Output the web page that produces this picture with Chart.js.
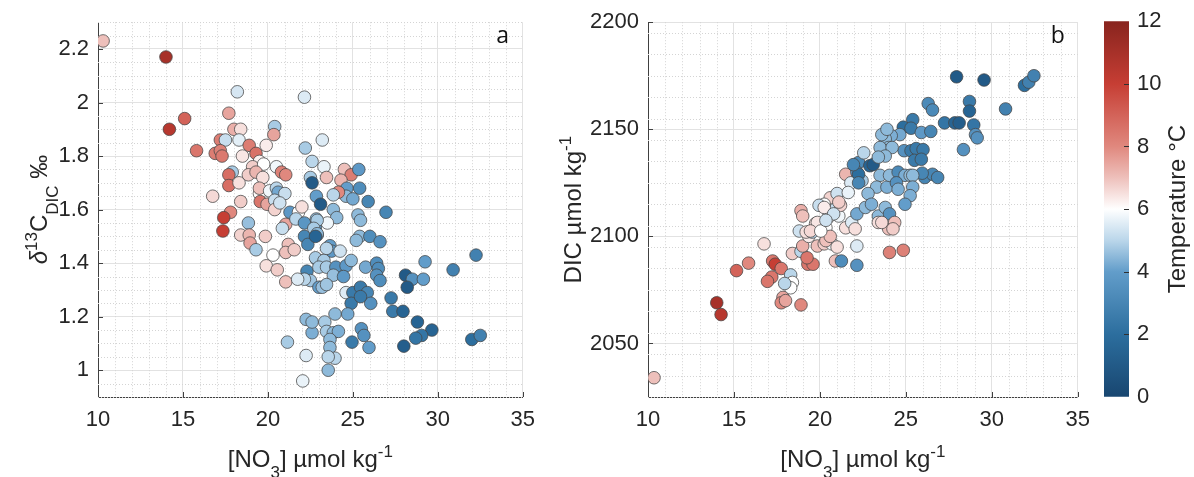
<!DOCTYPE html>
<html>
<head>
<meta charset="utf-8">
<script src="https://cdn.jsdelivr.net/npm/chart.js@4.4.1/dist/chart.umd.min.js"></script>
<style>
  body { margin: 0; background: #fff; }
  #wrap { position: relative; width: 1194px; height: 477px; }
  canvas { position: absolute; top: 0; }
</style>
</head>
<body>
<div id="wrap">
  <canvas id="chart-a" width="545" height="477" style="left:0"></canvas>
  <canvas id="chart-b" width="555" height="477" style="left:545px"></canvas>
  <canvas id="chart-cb" width="94" height="477" style="left:1100px"></canvas>
</div>
<script>
// ---- data ----
// panel a: nitrate (umol/kg), d13C-DIC (permil), temperature (degC)
const nitrateA = [10.3, 14.0, 15.1, 14.2, 15.8, 18.2, 17.7, 18.0, 18.4, 17.2, 17.5, 18.3, 16.9, 17.2, 17.3, 18.9, 19.3, 19.9, 20.4, 20.35,
  18.5, 19.5, 19.1, 19.75, 20.5, 20.8, 21.05, 17.9, 17.7, 17.7, 18.3, 18.85, 19.3, 19.7, 16.75, 18.4, 19.5, 19.5, 19.55, 19.95,
  20.1, 20.5, 20.6, 21.0, 20.4, 20.4, 20.7, 21.3, 17.8, 17.4, 17.35, 18.85, 21.05, 20.85, 18.4, 18.9, 18.95, 19.3, 19.85, 20.3,
  19.9, 20.55, 21.05, 21.15, 21.2, 21.05, 21.55, 22.15, 22.2, 22.6, 23.2, 22.5, 22.6, 22.85, 23.1, 21.8, 22.0, 21.65, 22.15, 22.85,
  22.15, 22.35, 22.8, 22.9, 22.85, 22.3, 22.5, 22.15, 21.75, 23.0, 23.0, 22.25, 22.6, 22.25, 22.05, 23.3, 23.45, 24.5, 24.9, 24.3,
  25.35, 25.4, 24.65, 24.6, 25.0, 24.15, 23.85, 25.9, 26.95, 23.85, 24.05, 23.5, 22.9, 22.7, 22.9, 22.8, 25.3, 25.45, 25.4, 25.2,
  26.0, 26.6, 23.65, 23.75, 24.25, 23.45, 22.8, 23.3, 23.0, 23.45, 24.0, 24.6, 24.9, 23.85, 24.45, 23.2, 23.45, 25.75, 26.4, 26.5,
  26.4, 26.6, 28.1, 28.5, 28.2, 29.15, 29.25, 30.9, 32.25, 24.6, 25.0, 25.45, 25.85, 24.9, 24.7, 26.05, 25.45, 27.25, 27.35, 27.95,
  28.8, 29.65, 29.05, 28.7, 28.0, 32.0, 32.5, 24.95, 25.95, 25.5, 25.65, 23.95, 23.35, 23.45, 23.85, 24.15, 23.65, 23.65, 23.95, 23.55,
  23.55, 22.6];
const d13cA = [2.23, 2.17, 1.94, 1.90, 1.82, 2.04, 1.96, 1.90, 1.90, 1.86, 1.86, 1.86, 1.81, 1.82, 1.80, 1.84, 1.81, 1.84, 1.91, 1.88,
  1.80, 1.78, 1.76, 1.77, 1.76, 1.74, 1.73, 1.74, 1.73, 1.69, 1.70, 1.73, 1.74, 1.72, 1.65, 1.63, 1.66, 1.68, 1.63, 1.62,
  1.67, 1.68, 1.665, 1.66, 1.635, 1.60, 1.625, 1.59, 1.59, 1.57, 1.52, 1.55, 1.545, 1.53, 1.505, 1.505, 1.475, 1.45, 1.50, 1.43,
  1.39, 1.375, 1.33, 1.105, 1.47, 1.44, 1.45, 2.02, 1.83, 1.78, 1.86, 1.72, 1.70, 1.65, 1.62, 1.59, 1.61, 1.565, 1.55, 1.565,
  1.50, 1.47, 1.535, 1.505, 1.415, 1.37, 1.335, 1.34, 1.34, 1.31, 1.41, 1.19, 1.14, 1.055, 0.96, 1.76, 1.72, 1.75, 1.73, 1.71,
  1.75, 1.68, 1.68, 1.65, 1.64, 1.665, 1.655, 1.63, 1.59, 1.60, 1.57, 1.55, 1.56, 1.53, 1.51, 1.50, 1.58, 1.56, 1.50, 1.485,
  1.50, 1.48, 1.465, 1.445, 1.445, 1.455, 1.42, 1.41, 1.385, 1.385, 1.385, 1.39, 1.41, 1.355, 1.35, 1.31, 1.32, 1.385, 1.40, 1.38,
  1.355, 1.335, 1.355, 1.34, 1.31, 1.34, 1.405, 1.375, 1.43, 1.29, 1.29, 1.31, 1.29, 1.25, 1.21, 1.25, 1.275, 1.27, 1.22, 1.22,
  1.18, 1.15, 1.13, 1.12, 1.09, 1.115, 1.13, 1.105, 1.085, 1.155, 1.13, 1.21, 1.18, 1.145, 1.14, 1.145, 1.115, 1.085, 1.045, 1.05,
  1.00, 1.18];
const tempA = [7.0, 11.0, 9.0, 10.5, 8.5, 5.4, 7.5, 7.3, 6.5, 8.3, 5.2, 5.6, 8.3, 8.2, 8.4, 8.3, 8.6, 6.3, 4.8, 7.5,
  6.4, 6.2, 6.8, 6.0, 5.8, 8.2, 8.0, 4.8, 8.7, 8.7, 6.5, 6.8, 7.2, 6.5, 6.6, 6.8, 6.1, 7.0, 8.5, 7.5,
  5.8, 5.0, 4.2, 5.2, 5.2, 6.7, 5.3, 3.8, 8.0, 10.0, 10.0, 4.6, 7.5, 5.2, 6.7, 7.2, 7.5, 4.8, 6.8, 6.0,
  6.5, 6.8, 7.0, 4.8, 7.0, 7.0, 6.8, 5.5, 4.8, 5.0, 5.5, 4.8, 1.0, 4.0, 1.0, 6.0, 6.5, 5.0, 3.7, 4.5,
  3.0, 3.0, 4.0, 4.0, 4.0, 3.0, 4.7, 5.0, 5.5, 4.0, 3.8, 4.5, 4.3, 5.5, 5.7, 5.7, 7.0, 7.0, 8.3, 7.2,
  3.8, 3.3, 4.0, 4.5, 4.2, 8.0, 5.0, 3.0, 3.0, 4.5, 4.5, 5.8, 4.8, 4.8, 4.5, 1.5, 4.5, 4.5, 4.5, 4.5,
  3.3, 3.5, 4.0, 3.8, 5.3, 5.0, 4.8, 4.8, 4.8, 4.8, 3.5, 3.8, 4.5, 4.6, 3.8, 4.6, 4.7, 4.2, 3.3, 3.3,
  3.5, 3.3, 1.0, 3.5, 1.0, 4.0, 4.0, 2.8, 2.8, 5.5, 2.5, 2.5, 3.0, 2.5, 4.2, 3.5, 2.5, 2.5, 2.5, 1.5,
  1.5, 1.5, 2.3, 2.3, 1.2, 2.0, 2.8, 2.5, 4.0, 3.5, 3.5, 4.5, 4.8, 4.8, 4.5, 4.3, 4.5, 4.5, 5.0, 5.0,
  4.5, 4.5];

// panel b: nitrate (umol/kg), DIC (umol/kg), temperature (degC)
const nitrateB = [10.35, 14.0, 14.25, 15.15, 15.85, 16.75, 17.25, 17.4, 17.75, 17.2, 16.95, 17.85, 17.75, 18.0, 18.9, 18.3, 18.4, 18.3, 17.95, 18.4,
  18.9, 19.3, 19.6, 19.25, 19.0, 19.35, 19.85, 20.25, 20.7, 21.0, 20.9, 21.25, 22.15, 22.15, 18.9, 19.0, 18.8, 19.2, 19.55, 19.75,
  20.05, 20.35, 20.35, 20.6, 20.5, 20.9, 21.1, 21.2, 20.6, 21.0, 20.25, 19.95, 21.5, 21.85, 22.15, 22.05, 21.5, 21.8, 21.65, 22.25,
  22.15, 22.45, 22.9, 23.1, 23.5, 23.3, 22.8, 22.65, 23.0, 23.4, 23.8, 23.9, 24.05, 24.05, 23.4, 24.0, 24.05, 24.85, 27.95, 29.55,
  31.9, 32.15, 32.45, 30.8, 28.7, 28.7, 26.3, 26.55, 27.25, 27.85, 28.1, 28.95, 29.05, 29.15, 28.35, 25.4, 24.85, 25.3, 25.9, 26.45,
  24.9, 25.3, 25.6, 26.0, 25.5, 25.9, 26.1, 26.55, 26.85, 25.95, 24.65, 24.15, 23.8, 24.0, 23.8, 23.5, 24.55, 24.95, 25.25, 25.4,
  24.45, 24.55, 25.4, 25.25, 24.95, 23.6, 24.35, 24.25, 23.6, 23.9, 24.2, 23.8, 23.4, 22.25, 22.25, 21.1, 20.25, 20.8, 19.85, 19.45,
  20.05, 20.35, 22.55, 21.95];
const dicB = [2034, 2069, 2063.5, 2084, 2087.5, 2096.5, 2088.5, 2087, 2085, 2081, 2079, 2071.5, 2069, 2070, 2068, 2082, 2078.5, 2076, 2078, 2092,
  2093, 2087, 2087, 2090, 2095.5, 2100, 2095.5, 2096.5, 2096.5, 2095, 2088.5, 2088.5, 2095.5, 2086.5, 2112, 2109.5, 2102.5, 2102, 2102, 2106,
  2105, 2104, 2098, 2100, 2109, 2113, 2109.5, 2114.5, 2118, 2120, 2115, 2114.5, 2104, 2106.5, 2110.5, 2103.5, 2129, 2125, 2120.5, 2134.5,
  2130, 2126, 2133, 2133.5, 2128.5, 2123, 2120, 2113.5, 2115, 2109.5, 2113.5, 2123, 2128.5, 2110.5, 2106.5, 2103.5, 2092.5, 2093.5, 2174.5, 2173,
  2170.5, 2172, 2175, 2159.5, 2163, 2158.5, 2162, 2159, 2153, 2153, 2153, 2152, 2147.5, 2146, 2140.5, 2154.5, 2151, 2150.5, 2148.5, 2149,
  2140, 2140, 2141, 2140.5, 2135.5, 2136, 2127.5, 2129, 2127.5, 2129.5, 2147.5, 2147, 2145.5, 2141.5, 2140, 2141.5, 2130, 2128.5, 2128.5, 2128.5,
  2125, 2122, 2123, 2119, 2115, 2106.5, 2106.5, 2103.5, 2147.5, 2150, 2141.5, 2137.5, 2137, 2129, 2125, 2116, 2113.5, 2110.5, 2106.5, 2102.5,
  2102.5, 2107.5, 2139, 2133.5];
const tempB = [7.0, 11.0, 10.5, 9.0, 8.0, 6.5, 8.5, 10.0, 8.5, 8.5, 8.5, 7.5, 8.0, 7.5, 8.0, 5.0, 6.0, 6.0, 5.0, 6.8,
  5.0, 8.5, 8.5, 8.5, 7.3, 6.3, 7.0, 6.8, 5.8, 6.5, 7.0, 3.3, 5.5, 3.5, 7.3, 7.0, 5.3, 6.5, 5.0, 6.5,
  6.0, 6.0, 7.0, 7.0, 6.0, 5.2, 5.8, 6.7, 6.7, 5.3, 6.0, 5.2, 6.5, 5.5, 4.2, 6.5, 7.2, 5.5, 5.7, 3.2,
  3.5, 4.8, 1.5, 1.0, 4.5, 4.5, 4.5, 4.5, 4.3, 4.5, 4.5, 4.3, 4.5, 3.5, 6.5, 7.0, 8.2, 8.2, 1.0, 1.0,
  2.0, 2.8, 2.8, 2.8, 2.5, 1.5, 3.2, 3.2, 2.3, 1.5, 1.2, 2.3, 3.5, 3.5, 3.5, 2.5, 2.0, 2.5, 3.8, 3.0,
  3.5, 2.5, 2.5, 2.5, 2.5, 2.5, 3.0, 3.0, 3.0, 3.0, 4.2, 4.3, 4.5, 4.5, 4.5, 4.5, 3.2, 4.3, 4.5, 4.5,
  3.5, 4.3, 4.3, 4.3, 4.0, 6.6, 7.0, 6.8, 4.5, 4.5, 4.5, 4.5, 4.5, 2.0, 3.0, 6.8, 6.3, 5.3, 6.4, 6.6,
  6.0, 5.3, 5.0, 3.0];

// ticks
const xTicks = [10, 15, 20, 25, 30, 35];
const yTicksA = [1, 1.2, 1.4, 1.6, 1.8, 2, 2.2];
const yTicksB = [2050, 2100, 2150, 2200];
const tempTicks = [0, 2, 4, 6, 8, 10, 12];

// diverging blue-white-red map used for temperature
const CMAP = [
  [0, [24, 70, 112]], [2, [44, 110, 158]], [4, [98, 157, 202]], [5, [186, 214, 234]],
  [6, [255, 255, 255]], [7, [238, 192, 187]], [8, [224, 136, 126]], [10, [198, 62, 52]], [12, [136, 36, 30]]
];

function tempColor(t) {
  for (let i = 1; i < CMAP.length; i++) {
    if (t <= CMAP[i][0]) {
      const [t0, c0] = CMAP[i - 1];
      const [t1, c1] = CMAP[i];
      const f = (t - t0) / (t1 - t0);
      const c = c0.map((v, k) => Math.round(v + (c1[k] - v) * f));
      return 'rgb(' + c.join(',') + ')';
    }
  }
  return 'rgb(' + CMAP[CMAP.length - 1][1].join(',') + ')';
}

const TEXT = '#262626';
const FONT = '"Liberation Sans", Arial, sans-serif';

// draws text made of normal / superscript (1) / subscript (-1) pieces
function drawRich(ctx, parts, x, y, size, rotate) {
  const small = Math.round(size * 0.7);
  const fontOf = p => (p[2] || '') + ' ' + (p[1] ? small : size) + 'px ' + FONT;
  ctx.save();
  ctx.translate(x, y);
  if (rotate) ctx.rotate(-Math.PI / 2);
  let total = 0;
  parts.forEach(p => { ctx.font = fontOf(p); total += ctx.measureText(p[0]).width; });
  let cx = -total / 2;
  ctx.fillStyle = TEXT;
  ctx.textBaseline = 'alphabetic';
  ctx.textAlign = 'left';
  parts.forEach(p => {
    ctx.font = fontOf(p);
    const dy = p[1] === 1 ? -size * 0.42 : p[1] === -1 ? size * 0.45 : 0;
    ctx.fillText(p[0], cx, dy);
    cx += ctx.measureText(p[0]).width;
  });
  ctx.restore();
}

// minor dotted grid, inward ticks, rich axis titles, panel letter
const decorPlugin = {
  id: 'decor',
  beforeDatasetsDraw(chart, args, opts) {
    const { ctx, chartArea: a, scales: { x, y } } = chart;
    ctx.save();
    ctx.strokeStyle = '#d4d4d4';
    ctx.lineWidth = 1;
    ctx.setLineDash([1, 2]);
    ctx.beginPath();
    for (let v = x.min; v <= x.max + 1e-9; v += opts.minorX) {
      if (xTicks.some(t => Math.abs(t - v) < 1e-6)) continue;
      const px = Math.round(x.getPixelForValue(v)) + 0.5;
      ctx.moveTo(px, a.top); ctx.lineTo(px, a.bottom);
    }
    for (let v = y.min; v <= y.max + 1e-9; v += opts.minorY) {
      if (opts.yTicks.some(t => Math.abs(t - v) < 1e-6)) continue;
      const py = Math.round(y.getPixelForValue(v)) + 0.5;
      ctx.moveTo(a.left, py); ctx.lineTo(a.right, py);
    }
    ctx.stroke();
    ctx.restore();
  },
  afterDraw(chart, args, opts) {
    const { ctx, chartArea: a, scales: { x, y } } = chart;
    ctx.save();
    ctx.strokeStyle = '#404040';
    ctx.lineWidth = 1;
    ctx.beginPath();
    xTicks.forEach(v => {
      const px = Math.round(x.getPixelForValue(v)) + 0.5;
      ctx.moveTo(px, a.bottom); ctx.lineTo(px, a.bottom - 5);
    });
    opts.yTicks.forEach(v => {
      const py = Math.round(y.getPixelForValue(v)) + 0.5;
      ctx.moveTo(a.left, py); ctx.lineTo(a.left + 5, py);
    });
    ctx.stroke();
    ctx.restore();

    const cx = (a.left + a.right) / 2;
    const cy = (a.top + a.bottom) / 2;
    drawRich(ctx, opts.xTitle, cx, 467, 24, false);
    drawRich(ctx, opts.yTitle, opts.yTitleX, cy, 24, true);

    ctx.save();
    ctx.fillStyle = '#111';
    ctx.font = '23px "Open Sans", sans-serif';
    ctx.textAlign = 'center';
    ctx.fillText(opts.letter, a.right - 20, 43);
    ctx.restore();
  }
};

function scatterChart(canvas, xs, ys, temps, yMin, yMax, yTicks, yWidth, padRight, extra) {
  const points = xs.map((v, i) => ({ x: v, y: ys[i] }));
  return new Chart(canvas, {
    type: 'scatter',
    data: {
      datasets: [{
        data: points,
        backgroundColor: temps.map(tempColor),
        borderColor: 'rgba(70,70,70,0.85)',
        borderWidth: 0.9,
        pointRadius: 6.3,
        pointHoverRadius: 6.3
      }]
    },
    options: {
      responsive: false,
      animation: false,
      events: [],
      layout: { padding: { top: 20, right: padRight, left: 0, bottom: 0 } },
      scales: {
        x: {
          type: 'linear',
          min: 10,
          max: 35,
          afterBuildTicks: s => { s.ticks = xTicks.map(v => ({ value: v })); },
          afterFit: s => { s.height = 80; },
          grid: { color: '#e2e2e2', drawTicks: false },
          border: { color: '#404040', width: 1 },
          ticks: { color: TEXT, padding: 10, font: { size: 22, family: FONT }, callback: v => String(v) }
        },
        y: {
          type: 'linear',
          min: yMin,
          max: yMax,
          afterBuildTicks: s => { s.ticks = yTicks.map(v => ({ value: v })); },
          afterFit: s => { s.width = yWidth; },
          grid: { color: '#e2e2e2', drawTicks: false },
          border: { color: '#404040', width: 1 },
          ticks: { color: TEXT, padding: 9, font: { size: 22, family: FONT }, callback: v => String(+v.toFixed(2)) }
        }
      },
      plugins: {
        legend: { display: false },
        tooltip: { enabled: false },
        decor: Object.assign({ yTicks: yTicks }, extra)
      }
    },
    plugins: [decorPlugin]
  });
}

scatterChart(document.getElementById('chart-a'), nitrateA, d13cA, tempA, 0.9, 2.3, yTicksA, 98, 8, {
  minorX: 1, minorY: 0.05, letter: 'a', yTitleX: 47,
  xTitle: [['[NO', 0], ['3', -1], ['] µmol kg', 0], ['-1', 1]],
  yTitle: [['δ', 0, 'italic'], ['13', 1], ['C', 0], ['DIC', -1], [' ‰', 0]]
});

scatterChart(document.getElementById('chart-b'), nitrateB, dicB, tempB, 2025, 2200, yTicksB, 103, 21, {
  minorX: 1, minorY: 10, letter: 'b', yTitleX: 36,
  xTitle: [['[NO', 0], ['3', -1], ['] µmol kg', 0], ['-1', 1]],
  yTitle: [['DIC µmol kg', 0], ['-1', 1]]
});

// colour bar: one floating bar spanning the temperature range, filled with the map
const cbPlugin = {
  id: 'cbDecor',
  afterDraw(chart) {
    const { ctx, chartArea: a, scales: { y } } = chart;
    ctx.save();
    ctx.strokeStyle = '#303030';
    ctx.lineWidth = 1;
    ctx.beginPath();
    tempTicks.forEach(v => {
      const py = Math.round(y.getPixelForValue(v)) + 0.5;
      if (py < a.top + 2 || py > a.bottom - 2) return;
      ctx.moveTo(a.right, py); ctx.lineTo(a.right - 5, py);
    });
    ctx.stroke();
    ctx.restore();
    drawRich(ctx, [['Temperature °C', 0]], 85, (a.top + a.bottom) / 2, 24, true);
  }
};

new Chart(document.getElementById('chart-cb'), {
  type: 'bar',
  data: {
    labels: ['T'],
    datasets: [{
      data: [[tempTicks[0], tempTicks[tempTicks.length - 1]]],
      borderWidth: 0,
      barPercentage: 1,
      categoryPercentage: 1,
      backgroundColor: ctx => {
        const { chart } = ctx;
        const ys = chart.scales.y;
        if (!chart.chartArea || !ys) return '#fff';
        const lo = tempTicks[0], hi = tempTicks[tempTicks.length - 1];
        const g = chart.ctx.createLinearGradient(0, ys.getPixelForValue(lo), 0, ys.getPixelForValue(hi));
        CMAP.forEach(([t, c]) => g.addColorStop((t - lo) / (hi - lo), 'rgb(' + c.join(',') + ')'));
        return g;
      }
    }]
  },
  options: {
    responsive: false,
    animation: false,
    events: [],
    layout: { padding: { top: 20, left: 4, right: 0, bottom: 80 } },
    scales: {
      x: { display: false },
      y: {
        position: 'right',
        min: 0,
        max: 12,
        afterBuildTicks: s => { s.ticks = tempTicks.map(v => ({ value: v })); },
        afterFit: s => { s.width = 65; },
        grid: { drawOnChartArea: false, drawTicks: false },
        border: { display: false },
        ticks: { color: TEXT, padding: 8, font: { size: 22, family: FONT } }
      }
    },
    plugins: { legend: { display: false }, tooltip: { enabled: false } }
  },
  plugins: [cbPlugin]
});
</script>
</body>
</html>
